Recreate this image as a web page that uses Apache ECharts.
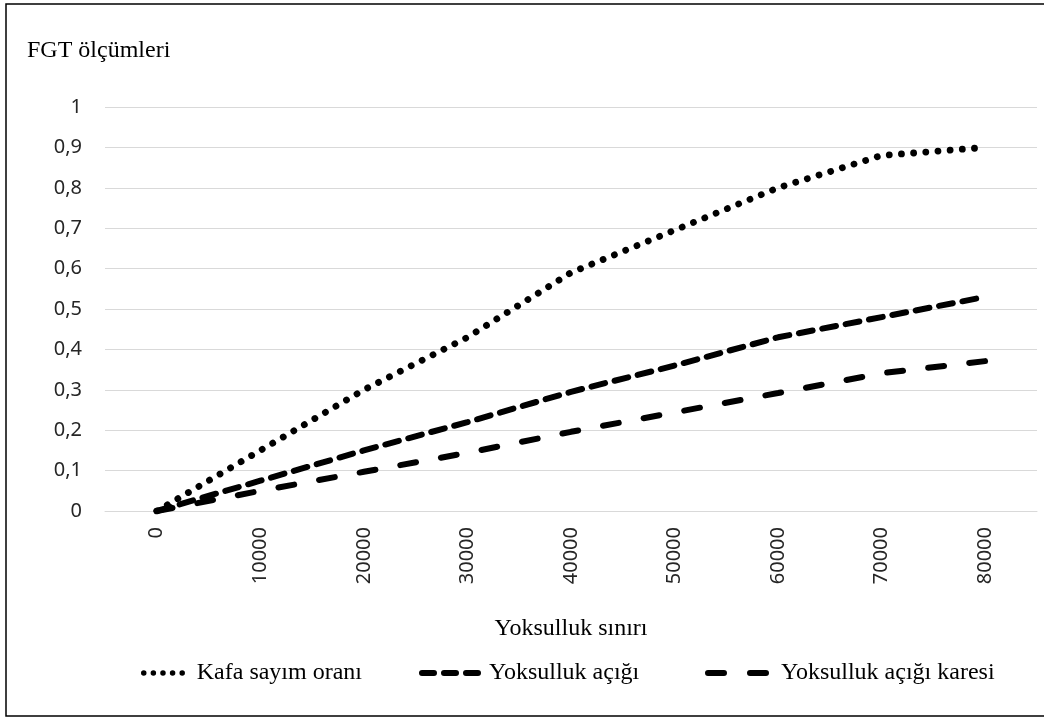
<!DOCTYPE html>
<html>
<head>
<meta charset="utf-8">
<script src="https://cdn.jsdelivr.net/npm/echarts@6/dist/echarts.min.js"></script>
<style>
html,body{margin:0;padding:0;background:#fff;}
#chart{width:1044px;height:718px;}
</style>
</head>
<body>
<div id="chart"></div>
<script>
// ---- data ----
var xValues = [0, 10000, 20000, 30000, 40000, 50000, 60000, 70000, 80000];
var seriesNames = ['Kafa sayım oranı', 'Yoksulluk açığı', 'Yoksulluk açığı karesi'];
var kafaSayim = [0, 0.15, 0.30, 0.43, 0.59, 0.695, 0.80, 0.88, 0.90];
var yoksullukAcigi = [0, 0.075, 0.15, 0.22, 0.295, 0.36, 0.43, 0.48, 0.53];
var yoksullukAcigiKaresi = [0, 0.05, 0.097, 0.144, 0.196, 0.244, 0.292, 0.341, 0.371];
var xTickLabels = ['0', '10000', '20000', '30000', '40000', '50000', '60000', '70000', '80000'];
var yTickLabels = ['0', '0,1', '0,2', '0,3', '0,4', '0,5', '0,6', '0,7', '0,8', '0,9', '1'];
var yTitle = 'FGT ölçümleri';
var xTitle = 'Yoksulluk sınırı';

function pairs(ys) { return xValues.map(function (x, i) { return [x, ys[i]]; }); }

var serif = 'Liberation Serif';
var sans = 'Noto Sans';
var hiddenSymbol = { color: 'rgba(0,0,0,0)', borderWidth: 0, opacity: 0 };

var chart = echarts.init(document.getElementById('chart'));
var option = {
  animation: false,
  backgroundColor: '#fff',
  title: {
    text: yTitle, left: 27, top: 39, padding: 0,
    textStyle: { fontFamily: serif, fontSize: 24, fontWeight: 'normal', color: '#000' }
  },
  grid: { left: 105, right: 7, top: 107, bottom: 207, containLabel: false, outerBoundsMode: 'none' },
  xAxis: {
    type: 'value', min: -5000, max: 85000, interval: 5000,
    axisLine: { show: true, lineStyle: { color: '#d9d9d9', width: 1 } },
    axisTick: { show: false },
    splitLine: { show: false },
    axisLabel: {
      rotate: 90, margin: 16, fontSize: 20, fontFamily: sans, color: '#262626',
      formatter: function (v) {
        var i = xValues.indexOf(v);
        return i >= 0 ? xTickLabels[i] : '';
      }
    },
    name: xTitle, nameLocation: 'middle', nameGap: 106,
    nameTextStyle: { fontFamily: serif, fontSize: 24, color: '#000' }
  },
  yAxis: {
    type: 'value', min: 0, max: 1, interval: 0.1,
    axisLine: { show: false }, axisTick: { show: false },
    splitLine: { show: true, lineStyle: { color: '#d9d9d9', width: 1 } },
    axisLabel: {
      margin: 23, fontSize: 20, fontFamily: sans, color: '#262626',
      formatter: function (v) { return yTickLabels[Math.round(v * 10)]; }
    }
  },
  legend: [
    {
      data: [seriesNames[0]], left: 136, top: 656, itemWidth: 48, itemHeight: 14,
      textStyle: { fontFamily: serif, fontSize: 24, color: '#000' },
      itemStyle: hiddenSymbol,
      lineStyle: { width: 5.5, type: [0.01, 9.6], cap: 'round' }
    },
    {
      data: [seriesNames[1]], left: 414, top: 656, itemWidth: 62, itemHeight: 14,
      textStyle: { fontFamily: serif, fontSize: 24, color: '#000' },
      itemStyle: hiddenSymbol,
      lineStyle: { width: 6, type: [12, 10], cap: 'round' }
    },
    {
      data: [seriesNames[2]], left: 700, top: 656, itemWidth: 68, itemHeight: 14,
      textStyle: { fontFamily: serif, fontSize: 24, color: '#000' },
      itemStyle: hiddenSymbol,
      lineStyle: { width: 6, type: [16, 26], cap: 'round' }
    }
  ],
  graphic: [
    { type: 'rect', shape: { x: 6, y: 4, width: 1060, height: 712 },
      style: { fill: 'none', stroke: '#000', lineWidth: 1.5 }, silent: true }
  ],
  series: [
    {
      name: seriesNames[0], type: 'line', data: pairs(kafaSayim), symbol: 'none',
      lineStyle: { color: '#000', width: 6.8, type: [0.01, 12.2], cap: 'round' },
      itemStyle: { color: '#000' }
    },
    {
      name: seriesNames[1], type: 'line', data: pairs(yoksullukAcigi), symbol: 'none',
      lineStyle: { color: '#000', width: 6, type: [14, 9.8], cap: 'round' },
      itemStyle: { color: '#000' }
    },
    {
      name: seriesNames[2], type: 'line', data: pairs(yoksullukAcigiKaresi), symbol: 'none',
      lineStyle: { color: '#000', width: 6, type: [16, 25.3], cap: 'round' },
      itemStyle: { color: '#000' }
    }
  ]
};
chart.setOption(option);
</script>
</body>
</html>
